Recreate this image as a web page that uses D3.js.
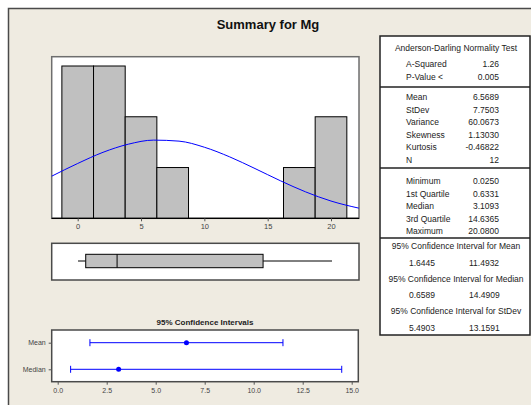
<!DOCTYPE html>
<html>
<head>
<meta charset="utf-8">
<script src="https://cdn.jsdelivr.net/npm/d3@7"></script>
<style>
  body { margin: 0; background: #fff; }
  text { font-family: "Liberation Sans", Arial, sans-serif; }
</style>
</head>
<body>
<div id="chart"></div>
<script>
// Summary for Mg
const width = 531, height = 405

// histogram bins (midpoints, width 2.5) and counts
const binMids = [0, 2.5, 5, 7.5, 10, 12.5, 15, 17.5, 20]
const binCounts = [3, 3, 2, 1, 0, 0, 0, 1, 2]
const binWidth = 2.5
const histTicks = [0, 5, 10, 15, 20]

// fitted normal curve
const curveX = [-2.05, 0, 2, 4, 6, 8, 10, 12, 14, 16, 18, 20, 22.2]
const curveY = [0.83, 1.08, 1.30, 1.46, 1.54, 1.52, 1.40, 1.21, 0.98, 0.74, 0.52, 0.34, 0.20]

// boxplot
const boxStats = { min: 0.025, q1: 0.6331, median: 3.1093, q3: 14.6365, max: 20.08 }

// confidence intervals
const ciLabels = ["Mean", "Median"]
const ciEst = [6.5689, 3.1093]
const ciLow = [1.6445, 0.6589]
const ciHigh = [11.4932, 14.4909]
const ciTicks = [0, 2.5, 5, 7.5, 10, 12.5, 15]

// table
const adRows = [["A-Squared", "1.26"], ["P-Value <", "0.005"]]
const descRows = [["Mean", "6.5689"], ["StDev", "7.7503"], ["Variance", "60.0673"],
  ["Skewness", "1.13030"], ["Kurtosis", "-0.46822"], ["N", "12"]]
const quartRows = [["Minimum", "0.0250"], ["1st Quartile", "0.6331"], ["Median", "3.1093"],
  ["3rd Quartile", "14.6365"], ["Maximum", "20.0800"]]
const ciTable = [["95% Confidence Interval for Mean", "1.6445", "11.4932"],
  ["95% Confidence Interval for Median", "0.6589", "14.4909"],
  ["95% Confidence Interval for StDev", "5.4903", "13.1591"]]

const svg = d3.select("#chart").append("svg")
  .attr("width", width).attr("height", height)

svg.append("rect").attr("width", width).attr("height", height).attr("fill", "#fff")
svg.append("rect").attr("x", 8.5).attr("y", 8.5).attr("width", 540).attr("height", 420)
  .attr("fill", "#efebe1").attr("stroke", "#4a4a4a").attr("stroke-width", 1.5)

svg.append("text").attr("x", 268).attr("y", 29).attr("text-anchor", "middle")
  .style("font-size", "13px").style("font-weight", "bold").attr("fill", "#111")
  .text("Summary for Mg")

// ---------- histogram ----------
const L = 51.7, R = 359
const x = d3.scaleLinear().domain([0, 20]).range([77.7, 331])
const hTop = 56.7, hBot = 218.3
const y = d3.scaleLinear().domain([0, 3]).range([hBot, 66])

svg.append("rect").attr("x", L).attr("y", hTop).attr("width", R - L).attr("height", hBot - hTop)
  .attr("fill", "#fff").attr("stroke", "#6e6e6e").attr("stroke-width", 1.5)

svg.selectAll(".bar")
  .data(binMids.map((m, i) => ({ m, c: binCounts[i] })).filter(d => d.c > 0))
  .join("rect")
    .attr("class", "bar")
    .attr("x", d => x(d.m - binWidth / 2))
    .attr("y", d => y(d.c))
    .attr("width", d => x(d.m + binWidth / 2) - x(d.m - binWidth / 2))
    .attr("height", d => hBot - y(d.c))
    .attr("fill", "#c0c0c0")
    .attr("stroke", "#000")
    .attr("stroke-width", 1)

const line = d3.line().x(d => x(d[0])).y(d => y(d[1])).curve(d3.curveMonotoneX)
svg.append("path").datum(curveX.map((v, i) => [v, curveY[i]]))
  .attr("d", line).attr("fill", "none").attr("stroke", "#0000ff").attr("stroke-width", 1)

svg.append("line").attr("x1", L).attr("x2", R).attr("y1", hBot).attr("y2", hBot)
  .attr("stroke", "#000").attr("stroke-width", 1.2)

const xAxis = svg.append("g").attr("transform", `translate(0,${hBot})`)
  .call(d3.axisBottom(x).tickValues(histTicks).tickSize(3).tickFormat(d3.format("d")))
xAxis.select(".domain").remove()
xAxis.selectAll("text").style("font-size", "7.5px").attr("fill", "#444").attr("dy", "0.6em")
xAxis.selectAll("line").attr("stroke", "#555")

// ---------- boxplot ----------
const bTop = 243.3, bBot = 280, bMid = 261
svg.append("rect").attr("x", L).attr("y", bTop).attr("width", R - L).attr("height", bBot - bTop)
  .attr("fill", "#fff").attr("stroke", "#4a4a4a").attr("stroke-width", 1.5)
svg.append("line").attr("x1", x(boxStats.min)).attr("x2", x(boxStats.q1))
  .attr("y1", bMid).attr("y2", bMid).attr("stroke", "#000")
svg.append("line").attr("x1", x(boxStats.q3)).attr("x2", x(boxStats.max))
  .attr("y1", bMid).attr("y2", bMid).attr("stroke", "#000")
svg.append("rect").attr("x", x(boxStats.q1)).attr("y", 254.3)
  .attr("width", x(boxStats.q3) - x(boxStats.q1)).attr("height", 13.4)
  .attr("fill", "#c0c0c0").attr("stroke", "#000")
svg.append("line").attr("x1", x(boxStats.median)).attr("x2", x(boxStats.median))
  .attr("y1", 254.3).attr("y2", 267.7).attr("stroke", "#000")

// ---------- confidence intervals ----------
const cTop = 330, cBot = 381.7, cR = 358.3
const xc = d3.scaleLinear().domain([0, 15]).range([57.7, 351.7])
const yc = d3.scalePoint().domain(ciLabels).range([342.7, 369.3])

svg.append("text").attr("x", 205).attr("y", 325).attr("text-anchor", "middle")
  .style("font-size", "8px").style("font-weight", "bold").attr("fill", "#222")
  .text("95% Confidence Intervals")

svg.append("rect").attr("x", L).attr("y", cTop).attr("width", cR - L).attr("height", cBot - cTop)
  .attr("fill", "#fff").attr("stroke", "#4a4a4a").attr("stroke-width", 1.5)

const cxAxis = svg.append("g").attr("transform", `translate(0,${cBot})`)
  .call(d3.axisBottom(xc).tickValues(ciTicks).tickSize(3).tickFormat(d3.format(".1f")))
cxAxis.select(".domain").remove()
cxAxis.selectAll("text").style("font-size", "7px").attr("fill", "#444")
cxAxis.selectAll("line").attr("stroke", "#555")

const cyAxis = svg.append("g").attr("transform", `translate(${L},0)`)
  .call(d3.axisLeft(yc).tickSize(3))
cyAxis.select(".domain").remove()
cyAxis.selectAll("text").style("font-size", "7px").attr("fill", "#444")
cyAxis.selectAll("line").attr("stroke", "#555")

const ci = svg.selectAll(".ci").data(ciLabels).join("g").attr("class", "ci")
ci.append("line").attr("x1", (d, i) => xc(ciLow[i])).attr("x2", (d, i) => xc(ciHigh[i]))
  .attr("y1", d => yc(d)).attr("y2", d => yc(d)).attr("stroke", "#0000ff")
ci.append("line").attr("x1", (d, i) => xc(ciLow[i])).attr("x2", (d, i) => xc(ciLow[i]))
  .attr("y1", d => yc(d) - 3.5).attr("y2", d => yc(d) + 3.5).attr("stroke", "#0000ff")
ci.append("line").attr("x1", (d, i) => xc(ciHigh[i])).attr("x2", (d, i) => xc(ciHigh[i]))
  .attr("y1", d => yc(d) - 3.5).attr("y2", d => yc(d) + 3.5).attr("stroke", "#0000ff")
ci.append("circle").attr("cx", (d, i) => xc(ciEst[i])).attr("cy", d => yc(d))
  .attr("r", 2.5).attr("fill", "#0000ff")

// ---------- statistics table ----------
const tL = 380, tR = 530
const tb = svg.append("g").style("font-size", "8.5px").attr("fill", "#222")
tb.append("rect").attr("x", tL).attr("y", 36).attr("width", tR - tL).attr("height", 299)
  .attr("fill", "#fff").attr("stroke", "#222").attr("stroke-width", 1.5)
;[87, 168, 238].forEach(yy => tb.append("line").attr("x1", tL).attr("x2", tR)
  .attr("y1", yy).attr("y2", yy).attr("stroke", "#222").attr("stroke-width", 1.5))

const labX = 406, valX = 499
tb.append("text").attr("x", 456).attr("y", 51).attr("text-anchor", "middle")
  .text("Anderson-Darling Normality Test")

function rows(data, y0, step) {
  data.forEach((r, i) => {
    tb.append("text").attr("x", labX).attr("y", y0 + i * step).text(r[0])
    tb.append("text").attr("x", valX).attr("y", y0 + i * step).attr("text-anchor", "end").text(r[1])
  })
}
rows(adRows, 67, 13)
rows(descRows, 100, 12.6)
rows(quartRows, 184, 12.5)

ciTable.forEach((r, i) => {
  const y0 = 249 + i * 32.5
  tb.append("text").attr("x", 456).attr("y", y0).attr("text-anchor", "middle").text(r[0])
  tb.append("text").attr("x", 409).attr("y", y0 + 16.5).text(r[1])
  tb.append("text").attr("x", 469).attr("y", y0 + 16.5).text(r[2])
})
</script>
</body>
</html>
